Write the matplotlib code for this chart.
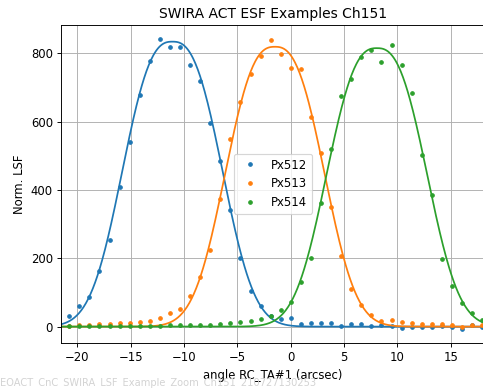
import numpy as np
import matplotlib
matplotlib.use('Agg')
from matplotlib import pyplot as plt

# sample positions (arcsec) shared by the three pixels
angle = [-20.76, -19.82, -18.87, -17.93, -16.98, -16.04, -15.10, -14.15, -13.21, -12.26,
         -11.32, -10.38, -9.43, -8.49, -7.54, -6.60, -5.66, -4.71, -3.77, -2.82,
         -1.88, -0.94, 0.01, 0.95, 1.90, 2.84, 3.78, 4.73, 5.67, 6.62,
         7.56, 8.50, 9.45, 10.39, 11.34, 12.28, 13.22, 14.17, 15.11, 16.06,
         17.00, 17.94]

px512 = [32, 60, 86, 164, 254, 409, 540, 677, 778, 841, 817, 818, 766, 718, 597, 484,
         340, 201, 103, 60, 31, 22, 25, 8, 10, 10, 10, 1, 8, 8, 2, 4, 3, -4, 0, 0,
         -2, 2, 0, -7, 4, 0]
px513 = [3, 4, 4, 7, 7, 10, 10, 14, 15, 26, 39, 51, 90, 146, 225, 373, 548, 656, 739,
         791, 838, 798, 758, 754, 613, 507, 351, 207, 109, 63, 34, 17, 20, 13, 12, 9,
         7, 8, 4, 0, 6, 5]
px514 = [3, 2, 3, 3, 3, 2, 3, 3, 3, 3, 4, 4, 5, 5, 6, 7, 10, 13, 16, 22, 31, 50, 71,
         132, 201, 361, 521, 676, 724, 789, 810, 774, 823, 765, 685, 501, 385, 198,
         119, 70, 41, 18]

labels = ['Px512', 'Px513', 'Px514']
colors = ['#1f77b4', '#ff7f0e', '#2ca02c']

# fitted LSF parameters per pixel: amplitude, centre, width, shape exponent
fit_amp = [834, 819, 815]
fit_center = [-11.09, -1.49, 8.07]
fit_width = [5.70, 5.66, 5.72]
fit_power = [2.6, 2.6, 2.6]

footer = 'EOACT_CnC_SWIRA_LSF_Example_Zoom_Ch151_210727130253'


def lsf_model(x, amp, center, width, power):
    """ generalised gaussian used for the LSF fit
    """
    return amp * np.exp(-(np.abs(x - center) / width) ** power)


dpi = 83.5
fig = plt.figure(figsize=(483 / dpi + 0.001, 388 / dpi + 0.001), dpi=dpi)
ax = fig.add_axes([0.1263, 0.1168, 0.8778, 0.8188])

xfit = np.linspace(-23, 20, 600)
series = [px512, px513, px514]
for i in range(3):
    ax.plot(angle, series[i], '.', color=colors[i], label=labels[i])
    ax.plot(xfit, lsf_model(xfit, fit_amp[i], fit_center[i], fit_width[i], fit_power[i]),
            '-', color=colors[i])

ax.set_xlim(-21.53, 18.21)
ax.set_ylim(-47, 883)
ax.set_xticks([-20, -15, -10, -5, 0, 5, 10, 15])
ax.set_yticks([0, 200, 400, 600, 800])
ax.grid(True)
ax.set_title('SWIRA ACT ESF Examples Ch151')
ax.set_xlabel('angle RC_TA#1 (arcsec)')
ax.set_ylabel('Norm. LSF')
ax.legend(loc='center')

fig.text(0.0, 0.0, footer, color='lightgray', fontsize=8.5, ha='left', va='bottom')

fig.savefig('out.png', dpi=dpi)
